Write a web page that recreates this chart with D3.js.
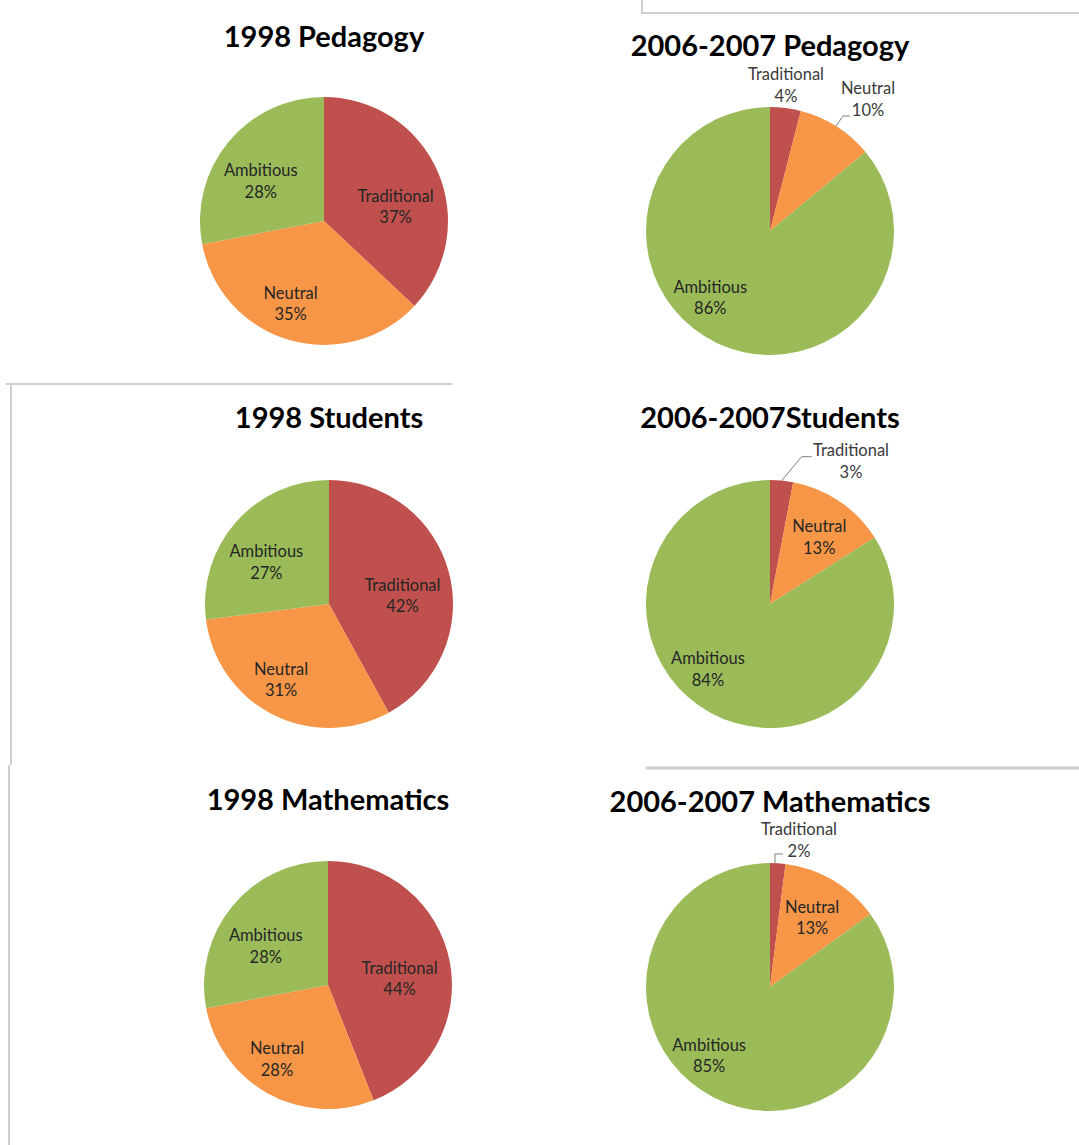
<!DOCTYPE html>
<html>
<head>
<meta charset="utf-8">
<script src="https://cdn.jsdelivr.net/npm/d3@7"></script>
<style>
  html, body { margin: 0; padding: 0; background: #fff; }
  svg { display: block; }
</style>
</head>
<body>
<script>
// ---- data ----
const categories = ["Traditional", "Neutral", "Ambitious"];
const chartTitles = ["1998 Pedagogy", "2006-2007 Pedagogy", "1998 Students", "2006-2007Students", "1998 Mathematics", "2006-2007 Mathematics"];
const pedagogy1998 = [37, 35, 28];
const pedagogy2006 = [4, 10, 86];
const students1998 = [42, 31, 27];
const students2006 = [3, 13, 84];
const mathematics1998 = [44, 28, 28];
const mathematics2006 = [2, 13, 85];
const seriesValues = [pedagogy1998, pedagogy2006, students1998, students2006, mathematics1998, mathematics2006];

// ---- layout / style ----
const W = 1079, H = 1145;
const colors = d3.scaleOrdinal().domain(categories).range(["#C0504D", "#F79646", "#9BBB59"]);
const R = 124;
const panels = [
  { cx: 324, cy: 221, ty: 47 },
  { cx: 770, cy: 231, ty: 56 },
  { cx: 329, cy: 604, ty: 428 },
  { cx: 770, cy: 604, ty: 428 },
  { cx: 328, cy: 985, ty: 810 },
  { cx: 770, cy: 987, ty: 812 }
];
// label nudges from centroid (px), or outside label spec
const labelSpec = [
  [{ dx: 1, dy: 16 }, { dx: -12, dy: 9 }, { dx: -4, dy: 9 }],
  [{ out: true, x: 16, y: -146 }, { out: true, x: 98, y: -132, leader: [[66, -105], [73, -115], [80, -115]] }, { dx: -27, dy: -3 }],
  [{ dx: -1, dy: 11 }, { dx: -13, dy: 7 }, { dx: -5, dy: 9 }],
  [{ out: true, x: 81, y: -143, leader: [[11.7, -123.4], [31.7, -147.3], [41.7, -147.3]] }, { dx: 6, dy: -3 }, { dx: -25, dy: -2 }],
  [{ dx: -4, dy: 8 }, { dx: -14, dy: 7 }, { dx: -3, dy: 10 }],
  [{ out: true, x: 29, y: -147, leader: [[5, -124], [5, -133], [13, -133]] }, { dx: 3, dy: -3 }, { dx: -26, dy: 0 }]
];

const svg = d3.select("body").append("svg")
  .attr("width", W).attr("height", H)
  .attr("viewBox", `0 0 ${W} ${H}`);
svg.append("rect").attr("width", W).attr("height", H).attr("fill", "#fff");

// panel border fragments
const borderColor = "#cfcfcf";
const borders = [
  [[642, 0], [642, 13], [1079, 13]],
  [[6, 384], [452, 384]],
  [[11, 384], [11, 765]],
  [[9, 765], [9, 1145]],
  [[646, 768], [1079, 768]]
];
borders.forEach((b, i) => {
  svg.append("path")
    .attr("d", d3.line()(b))
    .attr("fill", "none")
    .attr("stroke", borderColor)
    .attr("stroke-width", i === 4 ? 3 : 2);
});

const pie = d3.pie().sort(null).value(d => d.v);
const arc = d3.arc().innerRadius(0).outerRadius(R);
const labelArc = d3.arc().innerRadius(R * 0.62).outerRadius(R * 0.62);

seriesValues.forEach((vals, i) => {
  const p = panels[i];
  const data = categories.map((c, j) => ({ c, v: vals[j] }));
  const arcs = pie(data);
  const g = svg.append("g").attr("transform", `translate(${p.cx},${p.cy})`);

  g.selectAll("path.slice").data(arcs).join("path")
    .attr("class", "slice")
    .attr("d", arc)
    .attr("fill", d => colors(d.data.c));

  arcs.forEach((a, j) => {
    const spec = labelSpec[i][j];
    let x, y;
    if (spec.out) {
      x = spec.x; y = spec.y;
      if (spec.leader) {
        g.append("path").attr("d", d3.line()(spec.leader))
          .attr("fill", "none").attr("stroke", "#7f7f7f").attr("stroke-width", 1);
      }
    } else {
      const c = labelArc.centroid(a);
      x = c[0] + spec.dx; y = c[1] + spec.dy;
    }
    const t = g.append("text")
      .attr("x", x).attr("y", y)
      .attr("text-anchor", "middle")
      .attr("font-family", "Lato, 'Open Sans', sans-serif")
      .attr("font-size", 16.5)
      .attr("fill", spec.out ? "#3a3a3a" : "#262626");
    t.append("tspan").attr("x", x).attr("dy", "-0.3em").text(a.data.c);
    t.append("tspan").attr("x", x).attr("dy", "1.3em").text(a.data.v + "%");
  });

  svg.append("text")
    .attr("x", p.cx).attr("y", p.ty)
    .attr("text-anchor", "middle")
    .attr("font-family", "Lato, 'Open Sans', sans-serif")
    .attr("font-weight", "bold")
    .attr("font-size", 29)
    .attr("fill", "#000")
    .text(chartTitles[i]);
});
</script>
</body>
</html>
